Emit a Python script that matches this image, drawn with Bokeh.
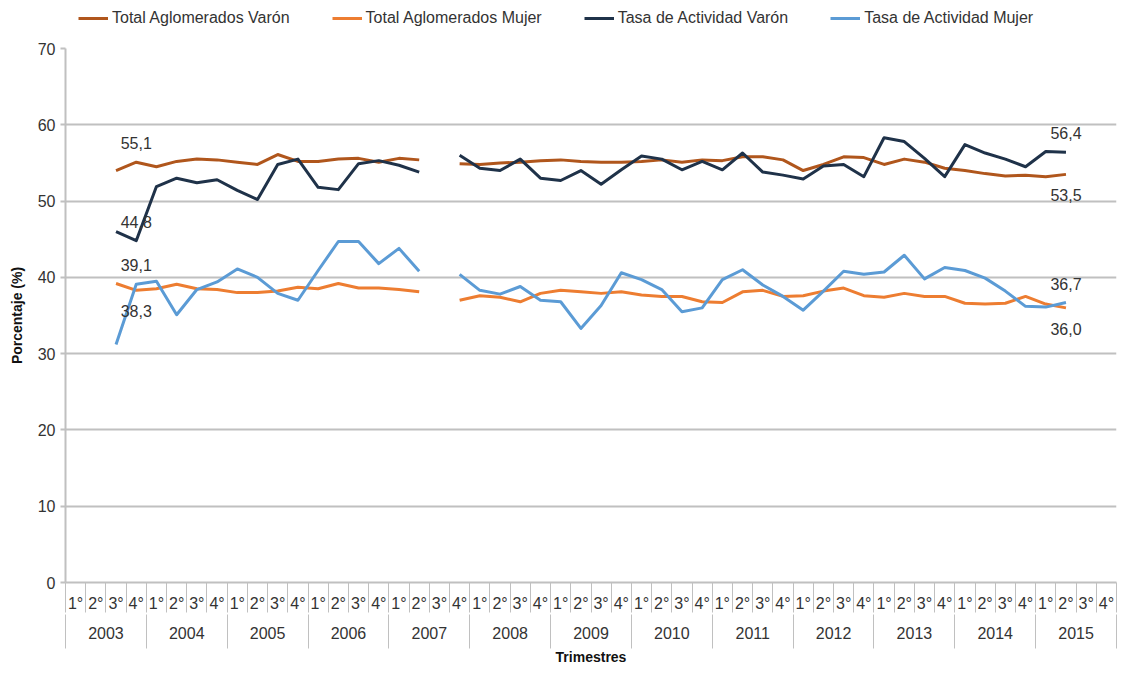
import math
from bokeh.plotting import figure
from bokeh.layouts import column
from bokeh.models import (Range1d, LinearAxis, FixedTicker, Legend, LegendItem,
                          ColumnDataSource)
from bokeh.core.properties import value
from bokeh.embed import file_html
from bokeh.resources import INLINE

# ---------------- data ----------------
years = [str(y) for y in range(2003, 2016)]
quarters = ["1°", "2°", "3°", "4°"]

total_varon = [None, None,
               54.0, 55.1, 54.5, 55.2, 55.5, 55.4, 55.1, 54.8, 56.1, 55.2, 55.2, 55.5, 55.6, 55.1, 55.6, 55.4,
               None,
               54.9, 54.8, 55.0, 55.1, 55.3, 55.4, 55.2, 55.1, 55.1, 55.2, 55.4, 55.1, 55.4, 55.3, 55.8, 55.8,
               55.4, 54.0, 54.8, 55.8, 55.7, 54.8, 55.5, 55.1, 54.3, 54.0, 53.6, 53.3, 53.4, 53.2, 53.5,
               None, None]
total_mujer = [None, None,
               39.2, 38.3, 38.5, 39.1, 38.5, 38.4, 38.0, 38.0, 38.2, 38.7, 38.5, 39.2, 38.6, 38.6, 38.4, 38.1,
               None,
               37.0, 37.6, 37.4, 36.8, 37.9, 38.3, 38.1, 37.9, 38.1, 37.7, 37.5, 37.5, 36.8, 36.7, 38.1, 38.3,
               37.5, 37.6, 38.2, 38.6, 37.6, 37.4, 37.9, 37.5, 37.5, 36.6, 36.5, 36.6, 37.5, 36.5, 36.0,
               None, None]
tasa_varon = [None, None,
              46.0, 44.8, 51.9, 53.0, 52.4, 52.8, 51.4, 50.2, 54.8, 55.5, 51.8, 51.5, 54.9, 55.3, 54.7, 53.8,
              None,
              56.0, 54.3, 54.0, 55.5, 53.0, 52.7, 54.0, 52.2, 54.1, 55.9, 55.5, 54.1, 55.2, 54.1, 56.3, 53.8,
              53.4, 52.9, 54.6, 54.8, 53.2, 58.3, 57.8, 55.6, 53.2, 57.4, 56.3, 55.5, 54.5, 56.5, 56.4,
              None, None]
tasa_mujer = [None, None,
              31.2, 39.1, 39.5, 35.1, 38.4, 39.4, 41.1, 40.0, 37.9, 37.0, 40.9, 44.7, 44.7, 41.8, 43.8, 40.8,
              None,
              40.4, 38.3, 37.8, 38.8, 37.0, 36.8, 33.3, 36.3, 40.6, 39.7, 38.4, 35.5, 36.0, 39.7, 41.0, 39.0,
              37.5, 35.7, 38.2, 40.8, 40.4, 40.7, 42.9, 39.8, 41.3, 40.9, 39.9, 38.2, 36.2, 36.1, 36.7,
              None, None]

series_names = ["Total Aglomerados Varón", "Total Aglomerados Mujer",
                "Tasa de Actividad Varón", "Tasa de Actividad Mujer"]
y_ticks = [0, 10, 20, 30, 40, 50, 60, 70]

# ---------------- styles ----------------
FONT = "Liberation Sans"
TXT = "#333333"
GRID = "#c0c0c0"
colors = ["#b0561c", "#ed7d31", "#1f3249", "#5b9bd5"]

periods = [(y, q) for y in years for q in quarters]
n = len(periods)
xs = [i + 0.5 for i in range(n)]
q_centers = xs
q_bounds = [float(i) for i in range(n + 1)]
year_centers = [4 * i + 2.0 for i in range(len(years))]
year_bounds = [4.0 * i for i in range(len(years) + 1)]

def nanify(v):
    return [float("nan") if a is None else a for a in v]

W, H = 1120, 678
LEG_H = 40
FRAME_LEFT = 65

# ---------------- legend strip ----------------
pl = figure(width=W, height=LEG_H, output_backend="svg", toolbar_location=None,
            x_range=Range1d(0, 1), y_range=Range1d(0, 1), x_axis_type=None, y_axis_type=None,
            min_border_left=FRAME_LEFT, min_border_right=W - 1116, min_border_top=0,
            min_border_bottom=0)
pl.outline_line_color = None
pl.xgrid.visible = False
pl.ygrid.visible = False
# sample renderers for the legend keys (kept outside the strip's visible range)
leg_renderers = [pl.line(x=[5, 6], y=[5, 6], line_color=c, line_width=3) for c in colors]
legend = Legend(items=[LegendItem(label=nm, renderers=[r]) for nm, r in zip(series_names, leg_renderers)],
                location=(78 - FRAME_LEFT, 12), orientation="horizontal", glyph_width=30, glyph_height=20,
                label_height=20, label_standoff=4, spacing=42, padding=0, margin=0,
                border_line_color=None, background_fill_alpha=0,
                label_text_font=FONT, label_text_font_size="16px", label_text_color=TXT)
pl.add_layout(legend)

# ---------------- main chart ----------------
PH = H - LEG_H
p = figure(width=W, height=PH, output_backend="svg", toolbar_location=None,
           x_range=Range1d(0, n), y_range=Range1d(0, 70), x_axis_type=None,
           min_border_left=FRAME_LEFT, min_border_right=W - 1116, min_border_top=48 - LEG_H,
           min_border_bottom=H - 582)
p.outline_line_color = None
p.background_fill_color = "white"

# y axis
p.yaxis.ticker = FixedTicker(ticks=y_ticks)
p.yaxis.axis_label = "Porcentaje (%)"
p.yaxis.axis_label_text_font = FONT
p.yaxis.axis_label_text_font_style = "bold"
p.yaxis.axis_label_text_font_size = "14px"
p.yaxis.axis_label_text_color = "#111111"
p.yaxis.axis_label_standoff = 10
p.yaxis.major_label_text_font = FONT
p.yaxis.major_label_text_font_size = "16px"
p.yaxis.major_label_text_color = TXT
p.yaxis.major_label_standoff = 5
p.yaxis.major_tick_out = 5
p.yaxis.major_tick_in = 0
p.yaxis.minor_tick_line_color = None
p.yaxis.axis_line_color = GRID
p.yaxis.axis_line_width = 2
p.yaxis.major_tick_line_color = GRID
p.yaxis.major_tick_line_width = 2
p.ygrid.ticker = FixedTicker(ticks=y_ticks)
p.ygrid.grid_line_color = GRID
p.ygrid.grid_line_width = 2

# quarter axis (separators drawn as minor ticks at quarter boundaries)
ax1 = LinearAxis(ticker=FixedTicker(ticks=q_centers, minor_ticks=q_bounds),
                 major_label_overrides={c: periods[i][1] for i, c in enumerate(q_centers)},
                 major_tick_out=0, major_tick_in=0, minor_tick_out=30, minor_tick_in=0,
                 minor_tick_line_color=GRID, minor_tick_line_width=1,
                 axis_line_color=GRID, axis_line_width=2,
                 major_label_standoff=-18, major_label_text_font=FONT,
                 major_label_text_font_size="16px", major_label_text_color=TXT)
p.add_layout(ax1, "below")

# year axis (separators at year boundaries)
ax2 = LinearAxis(ticker=FixedTicker(ticks=year_centers, minor_ticks=year_bounds),
                 major_label_overrides={c: years[i] for i, c in enumerate(year_centers)},
                 major_tick_out=0, major_tick_in=0, minor_tick_out=34, minor_tick_in=0,
                 minor_tick_line_color=GRID, minor_tick_line_width=1,
                 axis_line_color=None,
                 major_label_standoff=-22, major_label_text_font=FONT,
                 major_label_text_font_size="16px", major_label_text_color=TXT,
                 axis_label="Trimestres", axis_label_text_font=FONT,
                 axis_label_text_font_style="bold", axis_label_text_font_size="14px",
                 axis_label_text_color="#111111", axis_label_standoff=7)
p.add_layout(ax2, "below")

all_series = [total_varon, total_mujer, tasa_varon, tasa_mujer]
for vals, col in zip(all_series, colors):
    p.line(xs, nanify(vals), line_color=col, line_width=3, line_join="round")

# data labels (2003 4° and last value); -1 above the point, +1 below
first_idx = periods.index(("2003", "4°"))
label_side = [(-1, 1), (1, 1), (-1, -1), (-1, -1)]
lx, ly, lt, ldy = [], [], [], []
for vals, (s_first, s_last) in zip(all_series, label_side):
    last_idx = max(i for i, v in enumerate(vals) if v is not None)
    for idx, side in ((first_idx, s_first), (last_idx, s_last)):
        v = vals[idx]
        lx.append(xs[idx])
        ly.append(v)
        lt.append(f"{v:.1f}".replace(".", ","))
        ldy.append(-19 if side < 0 else 21)
src = ColumnDataSource(dict(x=lx, y=ly, text=lt, dy=ldy))
p.text(x="x", y="y", text="text", y_offset="dy", source=src, text_align="center",
       text_baseline="middle", text_font=value(FONT), text_font_size="16px",
       text_color=TXT)

layout = column(pl, p, spacing=0)
open("out.html", "w").write(file_html(layout, INLINE))
